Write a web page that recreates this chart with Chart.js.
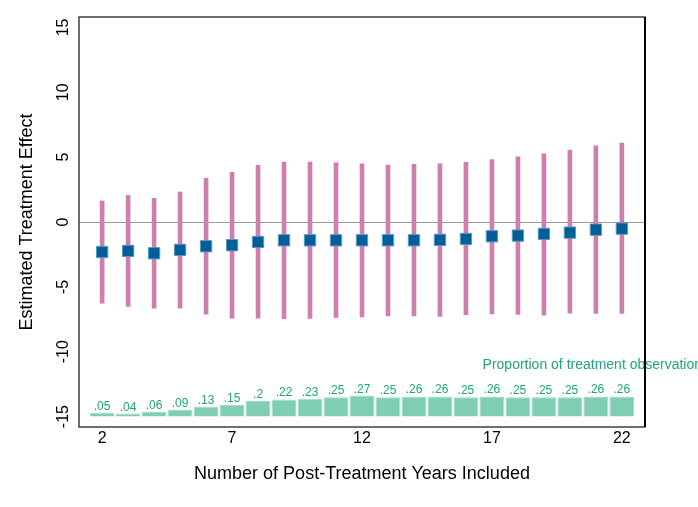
<!DOCTYPE html>
<html>
<head>
<meta charset="utf-8">
<script src="https://cdn.jsdelivr.net/npm/chart.js@4/dist/chart.umd.min.js"></script>
<style>
  html, body { margin: 0; padding: 0; background: #fff; }
  #wrap { width: 698px; height: 507px; }
</style>
</head>
<body>
<div id="wrap"><canvas id="chart-effects" width="698" height="507"></canvas></div>
<script>
const years      = [2, 3, 4, 5, 6, 7, 8, 9, 10, 11, 12, 13, 14, 15, 16, 17, 18, 19, 20, 21, 22];
const estimates  = [-2.31, -2.23, -2.41, -2.15, -1.87, -1.79, -1.54, -1.41, -1.41, -1.41, -1.41,
                    -1.41, -1.41, -1.38, -1.31, -1.10, -1.05, -0.92, -0.82, -0.59, -0.51];
const ciUpper    = [1.62, 2.05, 1.82, 2.31, 3.36, 3.82, 4.36, 4.62, 4.62, 4.56, 4.49,
                    4.38, 4.44, 4.49, 4.59, 4.82, 5.03, 5.26, 5.54, 5.87, 6.08];
const ciLower    = [-6.26, -6.51, -6.64, -6.64, -7.10, -7.41, -7.41, -7.46, -7.44, -7.36, -7.31,
                    -7.23, -7.23, -7.28, -7.15, -7.08, -7.13, -7.18, -7.03, -7.05, -7.05];
const treatShare = [0.05, 0.04, 0.06, 0.09, 0.13, 0.15, 0.2, 0.22, 0.23, 0.25, 0.27,
                    0.25, 0.26, 0.26, 0.25, 0.26, 0.25, 0.25, 0.25, 0.26, 0.26];
const xTicks = [2, 7, 12, 17, 22];
const yTicks = [-15, -10, -5, 0, 5, 10, 15];
const shareNote = 'Proportion of treatment observations';

const FONT = '"Liberation Sans", Arial, sans-serif';
const GREEN_TXT = '#1fa67a';

// share labels like ".05", ".2"
const fmtShare = p => String(p).replace(/^0/, '');

const decorations = {
  id: 'decorations',
  afterDatasetsDraw(chart) {
    const c = chart.ctx;
    const { x, y } = chart.scales;
    const meta = chart.getDatasetMeta(2);
    c.save();
    c.fillStyle = GREEN_TXT;
    c.font = '12px ' + FONT;
    c.textAlign = 'center';
    c.textBaseline = 'alphabetic';
    meta.data.forEach((bar, i) => {
      c.fillText(fmtShare(treatShare[i]), bar.x, bar.y - 3);
    });
    c.font = '14px ' + FONT;
    c.textAlign = 'left';
    c.textBaseline = 'middle';
    c.fillText(shareNote, x.getPixelForValue(16.64), y.getPixelForValue(-11));
    c.restore();
  },
  afterDraw(chart) {
    const c = chart.ctx;
    const a = chart.chartArea;
    const y = chart.scales.y;
    c.save();
    // frame
    c.strokeStyle = '#222';
    c.lineWidth = 1.3;
    c.strokeRect(a.left, a.top, a.right - a.left, a.bottom - a.top);
    c.strokeStyle = '#000';
    c.lineWidth = 2;
    c.beginPath();
    c.moveTo(a.right, a.top);
    c.lineTo(a.right, a.bottom);
    c.stroke();
    // rotated y tick labels
    c.fillStyle = '#000';
    c.font = '16px ' + FONT;
    c.textAlign = 'center';
    c.textBaseline = 'middle';
    yTicks.forEach(v => {
      c.save();
      c.translate(64, y.getPixelForValue(v));
      c.rotate(-Math.PI / 2);
      c.fillText(String(v), 0, 0);
      c.restore();
    });
    c.restore();
  }
};

const ctx = document.getElementById('chart-effects');
new Chart(ctx, {
  type: 'bar',
  data: {
    datasets: [
      {
        type: 'scatter',
        label: 'Estimate',
        data: years.map((yr, i) => ({ x: yr, y: estimates[i] })),
        yAxisID: 'y',
        pointStyle: 'rect',
        pointRadius: 8,
        backgroundColor: '#005f99',
        borderColor: '#5b97c4',
        borderWidth: 1,
        order: 0,
      },
      {
        type: 'bar',
        label: 'CI',
        data: years.map((yr, i) => ({ x: yr, y: [ciLower[i], ciUpper[i]] })),
        yAxisID: 'y',
        backgroundColor: '#cf7fae',
        barThickness: 4,
        grouped: false,
        order: 1,
      },
      {
        type: 'bar',
        label: 'Share',
        data: years.map((yr, i) => ({ x: yr, y: treatShare[i] })),
        yAxisID: 'y2',
        backgroundColor: '#7ecdb4',
        borderColor: '#a3dbc7',
        borderWidth: 1,
        barPercentage: 0.96,
        categoryPercentage: 1,
        grouped: false,
        order: 2,
      },
    ]
  },
  options: {
    responsive: false,
    animation: false,
    layout: { padding: { top: 17, right: 53, left: 0, bottom: 0 } },
    plugins: { legend: { display: false }, tooltip: { enabled: false } },
    scales: {
      x: {
        type: 'linear',
        offset: false,
        min: 1.11,
        max: 22.89,
        afterBuildTicks: s => { s.ticks = xTicks.map(v => ({ value: v })); },
        afterFit: s => { s.height = 80; },
        grid: { display: false, drawTicks: false, offset: false },
        border: { display: false },
        ticks: { color: '#000', font: { size: 16, family: FONT }, padding: 2, maxRotation: 0, autoSkip: false },
        title: { display: true, text: 'Number of Post-Treatment Years Included', color: '#000',
                 font: { size: 18, family: FONT }, padding: { top: 0, bottom: 22 } }
      },
      y: {
        min: -15.8,
        max: 15.8,
        afterBuildTicks: s => { s.ticks = yTicks.map(v => ({ value: v })); },
        afterFit: s => { s.width = 79; },
        ticks: { display: false },
        grid: { color: c => c.tick.value === 0 ? '#9a9a9a' : 'transparent', lineWidth: 1, drawTicks: false },
        border: { display: false },
        title: { display: true, text: 'Estimated Treatment Effect', color: '#000',
                 font: { size: 18, family: FONT }, padding: { top: 16, bottom: 0 } }
      },
      y2: { display: false, min: -0.1333, max: 5.1333 }
    }
  },
  plugins: [decorations]
});
</script>
</body>
</html>
